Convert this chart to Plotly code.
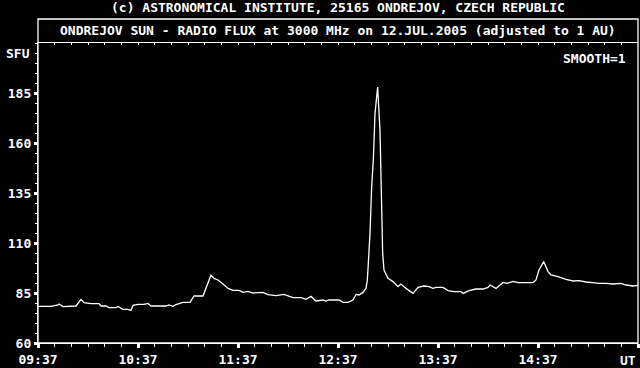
import plotly.graph_objects as go
import pandas as pd

# minutes after 09:37 UT
minutes = [0, 7.8, 12, 12.6, 15, 16.8, 18.6, 22.8, 25.8, 27.6, 31.8, 36.6, 37.8, 40.8, 42.6, 46.8,
           48, 51, 54, 55.8, 57, 60, 63.6, 66, 67.8, 76.8, 78.6, 81, 82.8, 87, 91.2, 93.6, 99,
           99.6, 102, 103.8, 105.6, 108, 111, 114, 117, 120.6, 123, 126, 129, 132, 135, 138,
           142.8, 147.6, 153, 157.8, 160.8, 163.8, 166.8, 171, 172.8, 174.6, 180.6, 183, 186,
           189, 190.8, 192.6, 195, 196.8, 197.6, 198.2, 199.2, 200.2, 201.2, 202.2, 203.2,
           203.8, 204.2, 205.2, 205.8, 206.2, 206.8, 207.6, 210, 213, 216, 217.8, 220.8, 225,
           228, 231.6, 234.6, 237, 238.8, 243, 246, 249.6, 253.8, 255, 258.6, 262.8, 267, 270,
           271.2, 274.8, 279, 281.4, 285, 288, 297, 298.8, 300.6, 303.4, 306, 307.8, 312,
           316.8, 321, 324.6, 328.8, 333, 336.6, 340.8, 345, 349.8, 352.8, 357, 360]
flux_sfu = [78.3, 78.3, 79, 79.5, 78.2, 78.2, 78.5, 78.5, 81.8, 80.2, 79.7, 79.7, 78.5, 78.5,
            77.7, 77.7, 78.3, 76.8, 76.8, 76.3, 78.8, 79.3, 79.3, 79.8, 78.5, 78.5, 79, 78.3,
            79.2, 80.3, 80.3, 83.5, 83.5, 84.8, 89.8, 94, 92.3, 91.5, 89.5, 87.3, 86.3, 86.3,
            85.3, 85.8, 85, 85.3, 85.3, 84.2, 83.7, 84.3, 82.7, 82.7, 81.8, 83.3, 81, 81.5, 81,
            81.5, 81.5, 80.3, 80.3, 81.5, 84.3, 84, 85.3, 87.3, 91.5, 100, 114.8, 138, 151.5,
            174.8, 184, 188, 181.5, 166.5, 143, 124.8, 104.8, 96.5, 92.3, 90.7, 88.2, 89.5,
            87.3, 84.8, 87.8, 88.5, 88.2, 87.3, 87.8, 87.8, 86.2, 85.7, 85.7, 84.8, 86.2, 87,
            87, 87.8, 89, 87.3, 90.3, 89.8, 90.8, 90.2, 90.2, 91.5, 96.5, 100.7, 95.7, 94,
            93.2, 91.8, 91, 91.2, 90.5, 90.2, 89.8, 89.8, 89.5, 89.8, 89, 88.5, 88.8]

x_tick_times = ["09:37", "10:37", "11:37", "12:37", "13:37", "14:37", "15:37"]
x_tick_labels = ["09:37", "10:37", "11:37", "12:37", "13:37", "14:37", ""]
y_tick_vals = [60, 85, 110, 135, 160, 185]

day = "2005-07-12 "
start = pd.Timestamp(day + "09:37")
times = [start + pd.Timedelta(minutes=m) for m in minutes]
tickvals = [pd.Timestamp(day + t) for t in x_tick_times]

FONT = dict(family="DejaVu Sans Mono", size=13, color="white", weight="bold")

fig = go.Figure()
fig.add_trace(go.Scatter(x=times, y=flux_sfu, mode="lines",
                         line=dict(color="white", width=1.3), showlegend=False,
                         hoverinfo="skip"))
# dummy trace for top axis
fig.add_trace(go.Scatter(x=[times[0]], y=[flux_sfu[0]], xaxis="x2", mode="markers",
                         marker=dict(opacity=0), showlegend=False, hoverinfo="skip"))

xr = [tickvals[0], tickvals[-1]]
fig.update_layout(
    width=640, height=368,
    margin=dict(l=38, r=2, t=43, b=25),
    paper_bgcolor="black", plot_bgcolor="black",
    font=FONT,
    xaxis=dict(range=xr, type="date", tickvals=tickvals, ticktext=x_tick_labels,
               ticks="outside", ticklen=4, tickwidth=3, tickcolor="white",
               showline=True, linecolor="white", linewidth=1.3, showgrid=False,
               zeroline=False, tickfont=FONT,
               minor=dict(dtick=600000, tick0=tickvals[0], ticks="outside", ticklen=3,
                          tickwidth=1.3, tickcolor="white", showgrid=False)),
    xaxis2=dict(range=xr, type="date", overlaying="x", side="top", matches=None,
                showline=True, linecolor="white", linewidth=1.3, showgrid=False,
                ticks="inside", ticklen=2, tickwidth=1.3, tickcolor="white",
                dtick=600000, tick0=tickvals[0], showticklabels=False, zeroline=False),
    yaxis=dict(range=[60, 210], tickvals=y_tick_vals, ticks="outside", ticklen=3,
               tickwidth=3, tickcolor="white", showline=True, linecolor="white",
               linewidth=1.3, showgrid=False, zeroline=False, tickfont=FONT,
               minor=dict(dtick=5, tick0=60, ticks="outside", ticklen=2, tickwidth=1.3,
                          tickcolor="white", showgrid=False)),
    shapes=[dict(type="rect", xref="paper", yref="paper", x0=0, x1=1, y0=0, y1=1.08,
                 line=dict(color="white", width=1.3), layer="above")],
    annotations=[
        dict(text="(c) ASTRONOMICAL INSTITUTE, 25165 ONDREJOV, CZECH REPUBLIC",
             xref="paper", yref="paper", x=0.5, y=1.1167, xanchor="center",
             yanchor="middle", showarrow=False, font=FONT),
        dict(text="ONDREJOV SUN - RADIO FLUX at 3000 MHz on 12.JUL.2005 (adjusted to 1 AU)",
             xref="paper", yref="paper", x=0.5, y=1.04, xanchor="center",
             yanchor="middle", showarrow=False, font=FONT),
        dict(text="SMOOTH=1", xref="paper", yref="paper", x=0.9833, y=0.95,
             xanchor="right", yanchor="middle", showarrow=False, font=FONT),
        dict(text="SFU", xref="paper", yref="y", x=-0.01, y=205,
             xanchor="right", yanchor="middle", showarrow=False, font=FONT),
        dict(text="UT", xref="paper", yref="paper", x=1.0, y=-0.0567,
             xanchor="right", yanchor="middle", showarrow=False, font=FONT),
    ],
)

fig.write_html("out.html")
